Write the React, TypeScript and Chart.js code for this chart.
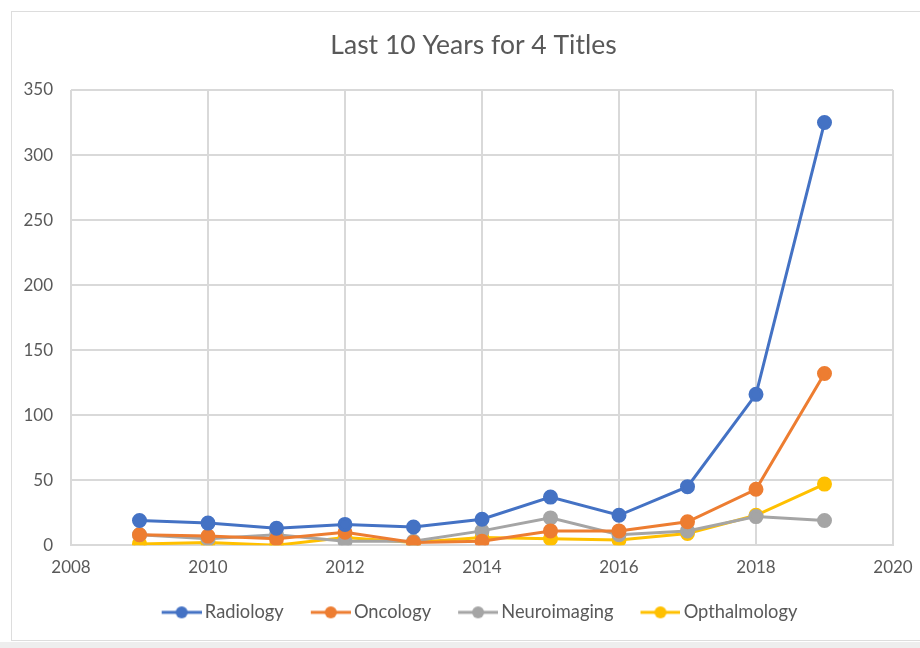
import React, { useEffect, useRef } from "react";
import { Chart, registerables } from "chart.js";

Chart.register(...registerables);

const years = [2009, 2010, 2011, 2012, 2013, 2014, 2015, 2016, 2017, 2018, 2019];
const radiology = [19, 17, 13, 16, 14, 20, 37, 23, 45, 116, 325];
const oncology = [8, 7, 5, 10, 2, 3, 11, 11, 18, 43, 132];
const neuroimaging = [8, 5, 8, 3, 3, 11, 21, 8, 11, 22, 19];
const opthalmology = [1, 2, 0, 6, 2, 6, 5, 4, 9, 23, 47];
const seriesNames = ["Radiology", "Oncology", "Neuroimaging", "Opthalmology"];
const seriesColors = ["#4472C4", "#ED7D31", "#A5A5A5", "#FFC000"];
const xTicks = [2008, 2010, 2012, 2014, 2016, 2018, 2020];
const yTicks = [0, 50, 100, 150, 200, 250, 300, 350];

const FONT = "Lato, 'Open Sans', sans-serif";
const PAD_LEFT = 54;

function legendMarker(color: string): HTMLCanvasElement {
  const L = 18;
  const c = document.createElement("canvas");
  c.width = L + 40;
  c.height = 14;
  const ctx = c.getContext("2d")!;
  ctx.strokeStyle = color;
  ctx.lineWidth = 3;
  ctx.beginPath();
  ctx.moveTo(L, 7);
  ctx.lineTo(L + 40, 7);
  ctx.stroke();
  ctx.fillStyle = color;
  ctx.beginPath();
  ctx.arc(L + 20, 7, 6, 0, Math.PI * 2);
  ctx.fill();
  return c;
}

const frame = {
  id: "frame",
  beforeDraw(chart: any) {
    const ctx = chart.ctx;
    ctx.save();
    ctx.fillStyle = "#ffffff";
    ctx.fillRect(0, 0, chart.width, chart.height);
    ctx.fillStyle = "#eeeeee";
    ctx.fillRect(0, 642, chart.width, chart.height - 642);
    ctx.strokeStyle = "#dddddd";
    ctx.lineWidth = 1;
    ctx.strokeRect(11.5, 11.5, chart.width, 629);
    ctx.restore();
  },
};

export default function App() {
  const ref = useRef<HTMLCanvasElement | null>(null);
  useEffect(() => {
    document.body.style.margin = "0";
    const all = [radiology, oncology, neuroimaging, opthalmology];
    const datasets = all.map((vals, i) => ({
      label: seriesNames[i],
      data: years.map((y, j) => ({ x: y, y: vals[j] })),
      borderColor: seriesColors[i],
      backgroundColor: seriesColors[i],
      pointBackgroundColor: seriesColors[i],
      pointBorderColor: seriesColors[i],
      borderWidth: 3,
      pointRadius: 6,
      pointHoverRadius: 6,
      tension: 0,
    }));
    const markers = seriesColors.map(legendMarker);
    const chart = new Chart(ref.current!, {
      type: "line",
      data: { datasets },
      plugins: [frame],
      options: {
        animation: false,
        responsive: false,
        maintainAspectRatio: false,
        layout: { padding: { left: PAD_LEFT, right: 27, top: 0, bottom: 16.5 } },
        plugins: {
          tooltip: { enabled: false },
          title: {
            display: true,
            text: "Last 10 Years for 4 Titles",
            color: "#595959",
            font: { family: FONT, size: 26.5, weight: "normal" },
            padding: { top: 30, bottom: 28.2 },
          },
          legend: {
            position: "bottom",
            labels: {
              usePointStyle: true,
              pointStyleWidth: 46,
              color: "#595959",
              font: { family: FONT, size: 18.3 },
              padding: 15,
              generateLabels: (ch: any) =>
                ch.data.datasets.map((ds: any, i: number) => ({
                  text: ds.label,
                  fillStyle: seriesColors[i],
                  strokeStyle: seriesColors[i],
                  fontColor: "#595959",
                  pointStyle: markers[i],
                  lineWidth: 0,
                  hidden: false,
                  datasetIndex: i,
                })),
            },
          },
        },
        scales: {
          x: {
            type: "linear",
            min: 2008,
            max: 2020,
            afterBuildTicks: (s: any) => {
              s.ticks = xTicks.map((v) => ({ value: v }));
            },
            afterFit: (s: any) => {
              s.height = 43;
              s.paddingLeft = 0;
              s.paddingRight = 0;
            },
            ticks: {
              color: "#595959",
              font: { family: FONT, size: 17 },
              padding: 12,
              callback: (v: any) => String(v),
            },
            grid: { color: "#d9d9d9", lineWidth: 2, drawTicks: false },
            border: { color: "#d9d9d9", width: 2 },
          },
          y: {
            min: 0,
            max: 350,
            afterBuildTicks: (s: any) => {
              s.ticks = yTicks.map((v) => ({ value: v }));
            },
            afterFit: (s: any) => {
              s.width = 71 - PAD_LEFT;
            },
            ticks: {
              color: "#595959",
              font: { family: FONT, size: 17 },
              mirror: true,
              crossAlign: "far",
              padding: -47.5,
            },
            grid: { color: "#d9d9d9", lineWidth: 2, drawTicks: false },
            border: { display: false },
          },
        },
      },
    });
    return () => chart.destroy();
  }, []);
  return (
    <div style={{ width: 920, height: 648 }}>
      <canvas ref={ref} width={920} height={648} style={{ display: "block" }} />
    </div>
  );
}
